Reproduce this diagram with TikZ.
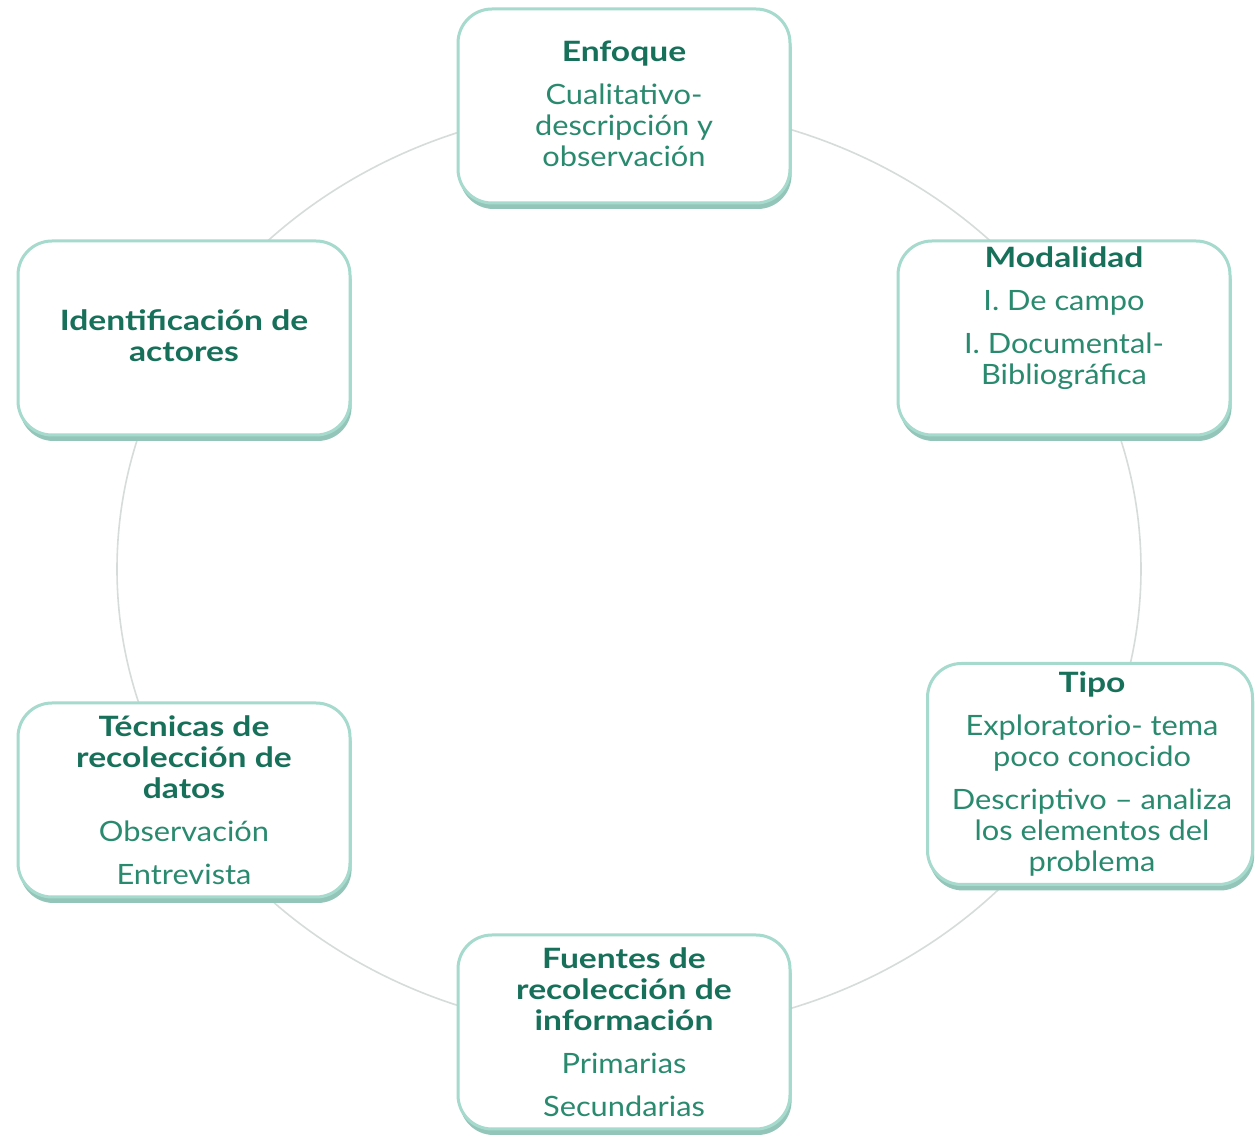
\documentclass[tikz,border=0pt]{standalone}
\usepackage{fontspec}
\setmainfont{Lato}[FakeStretch=1.1]
\newfontfamily\titlefont{Lato}[FakeStretch=1.2]
\usetikzlibrary{shadows}
\definecolor{titlec}{HTML}{17705A}
\definecolor{bodyc}{HTML}{2A8A6E}
\definecolor{boxline}{HTML}{A6DACC}
\definecolor{shadowc}{HTML}{93C6B8}
\definecolor{ringc}{HTML}{D6DCDA}
\tikzset{
  box/.style={draw=boxline, line width=1.5pt, fill=white, rounded corners=17pt,
    minimum width=166pt, minimum height=97pt, inner sep=0pt,
    general shadow={shadow xshift=0.8pt, shadow yshift=-3pt, fill=shadowc}},
  txt/.style={align=center, inner sep=0pt, font=\fontsize{14}{15.5}\selectfont, text=bodyc},
  ring/.style={draw=ringc, line width=0.8pt}
}
\newcommand{\ttl}[1]{{\titlefont\bfseries\color{titlec}#1}}
\begin{document}
\begin{tikzpicture}[x=0.5pt,y=-0.5pt]
\useasboundingbox (0,0) rectangle (1255,1138);
\fill[white] (0,0) rectangle (1255,1138);
\coordinate (c) at (629,569);
\draw[ring] (c) ellipse [x radius=256pt, y radius=231.5pt];

\node[box] (enf) at (624,106) {};
\node[box] (mod) at (1064,338) {};
\node[box, minimum width=162.5pt, minimum height=110.5pt] (tip) at (1090,774) {};
\node[box] (fue) at (624,1032) {};
\node[box] (tec) at (184,800) {};
\node[box] (ide) at (184,338) {};

\node[txt] (enft) at (624,104) {\ttl{Enfoque}\\[6pt]Cualitativo-\\descripción y\\observación};
\node[txt] (modt) at (1064,318) {\ttl{Modalidad}\\[6pt]I. De campo\\[6pt]I. Documental-\\Bibliográfica};
\node[txt] (tipt) at (1092,774) {\ttl{Tipo}\\[6pt]Exploratorio- tema\\poco conocido\\[6pt]Descriptivo – analiza\\los elementos del\\problema};
\node[txt] (fuet) at (624,1032) {\ttl{Fuentes de}\\\ttl{recolección de}\\\ttl{información}\\[6pt]Primarias\\[6pt]Secundarias};
\node[txt] (tect) at (184,800) {\ttl{Técnicas de}\\\ttl{recolección de}\\\ttl{datos}\\[6pt]Observación\\[6pt]Entrevista};
\node[txt] (idet) at (184,336) {\ttl{Identificación de}\\\ttl{actores}};
\end{tikzpicture}
\end{document}
